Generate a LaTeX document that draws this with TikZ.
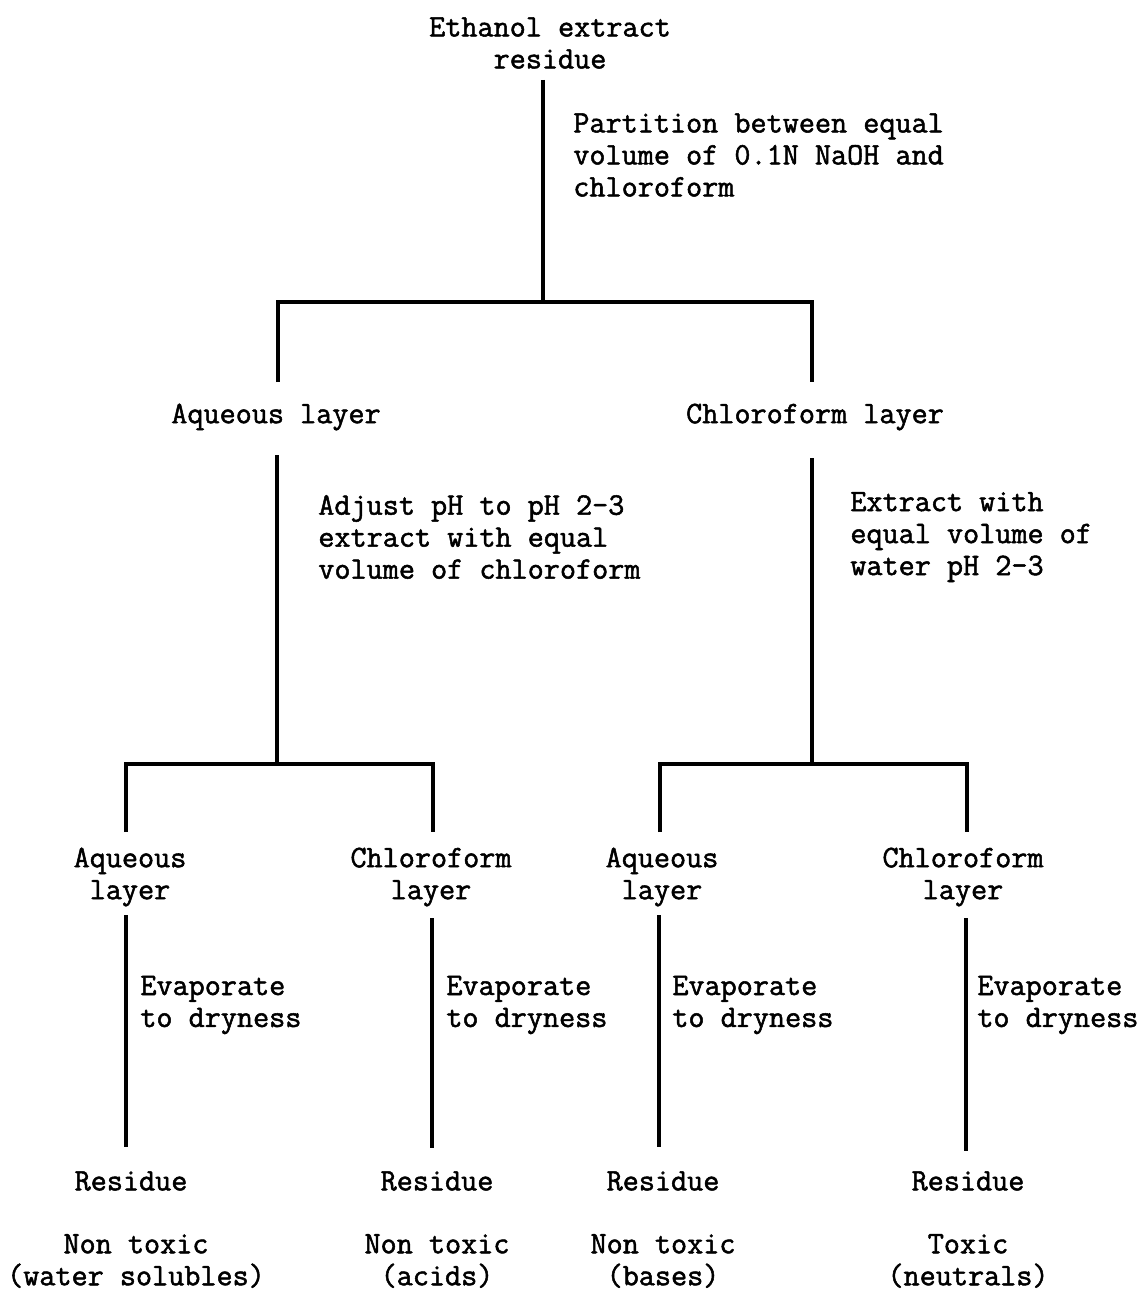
\documentclass[tikz,border=0pt]{standalone}
\usepackage{fontspec}
\newfontfamily\tw{lmmono12-regular}[Extension=.otf, FakeBold=1.6]
\begin{document}
\begin{tikzpicture}[x=0.02cm,y=-0.02cm,
  txt/.style={inner sep=0pt, align=center, font=\tw\fontsize{17.8}{18.2}\selectfont},
  lbl/.style={inner sep=0pt, align=left, anchor=west, font=\tw\fontsize{17.8}{18.2}\selectfont},
  conn/.style={line width=2.7pt, line join=miter}]
\useasboundingbox (0,0) rectangle (1141,1291);
% nodes
\node[txt] (eth) at (550,43) {Ethanol extract\\residue};
\node[lbl] (l1) at (573,155) {Partition between equal\\volume of 0.1N NaOH and\\chloroform};
\node[txt] (aq1) at (276,417) {Aqueous layer};
\node[txt] (ch1) at (815,417) {Chloroform layer};
\node[lbl] (l2) at (318,537) {Adjust pH to pH 2-3\\extract with equal\\volume of chloroform};
\node[lbl] (l3) at (850,537) {Extract with\\equal volume of\\water pH 2-3};
\node[txt] (aq2) at (130,877) {Aqueous\\layer};
\node[txt] (ch2) at (431,877) {Chloroform\\layer};
\node[txt] (aq3) at (662,877) {Aqueous\\layer};
\node[txt] (ch3) at (963,877) {Chloroform\\layer};
\foreach \n/\x in {a/140,b/446,c/672,d/977}
  \node[lbl] (ev\n) at (\x,1005) {Evaporate\\to dryness};
\node[txt] (ra) at (131,1181) {Residue};
\node[txt] (rb) at (437,1181) {Residue};
\node[txt] (rc) at (663,1181) {Residue};
\node[txt] (rd) at (968,1181) {Residue};
\node[txt] (fa) at (136,1261) {Non toxic\\(water solubles)};
\node[txt] (fb) at (437,1261) {Non toxic\\(acids)};
\node[txt] (fc) at (663,1261) {Non toxic\\(bases)};
\node[txt] (fd) at (968,1261) {Toxic\\(neutrals)};
% connector coordinates
\coordinate (s0) at (543,80);
\coordinate (j0) at (543,302);
\coordinate (j0l) at (278,302);
\coordinate (j0r) at (812,302);
\coordinate (aq1t) at (278,382);
\coordinate (ch1t) at (812,382);
\coordinate (s1) at (277,455);
\coordinate (j1) at (277,764);
\coordinate (j1l) at (126,764);
\coordinate (j1r) at (433,764);
\coordinate (aq2t) at (126,832);
\coordinate (ch2t) at (433,832);
\coordinate (s2) at (812,458);
\coordinate (j2) at (812,764);
\coordinate (j2l) at (660,764);
\coordinate (j2r) at (967,764);
\coordinate (aq3t) at (660,832);
\coordinate (ch3t) at (967,832);
\coordinate (ea1) at (126,915);  \coordinate (ea2) at (126,1147);
\coordinate (eb1) at (432,918);  \coordinate (eb2) at (432,1148);
\coordinate (ec1) at (659,915);  \coordinate (ec2) at (659,1147);
\coordinate (ed1) at (966,918);  \coordinate (ed2) at (966,1151);
% connectors
\draw[conn] (s0) -- (j0);
\draw[conn] (aq1t) -- (j0l) -- (j0r) -- (ch1t);
\draw[conn] (s1) -- (j1);
\draw[conn] (aq2t) -- (j1l) -- (j1r) -- (ch2t);
\draw[conn] (s2) -- (j2);
\draw[conn] (aq3t) -- (j2l) -- (j2r) -- (ch3t);
\draw[conn] (ea1) -- (ea2);
\draw[conn] (eb1) -- (eb2);
\draw[conn] (ec1) -- (ec2);
\draw[conn] (ed1) -- (ed2);
\end{tikzpicture}
\end{document}
